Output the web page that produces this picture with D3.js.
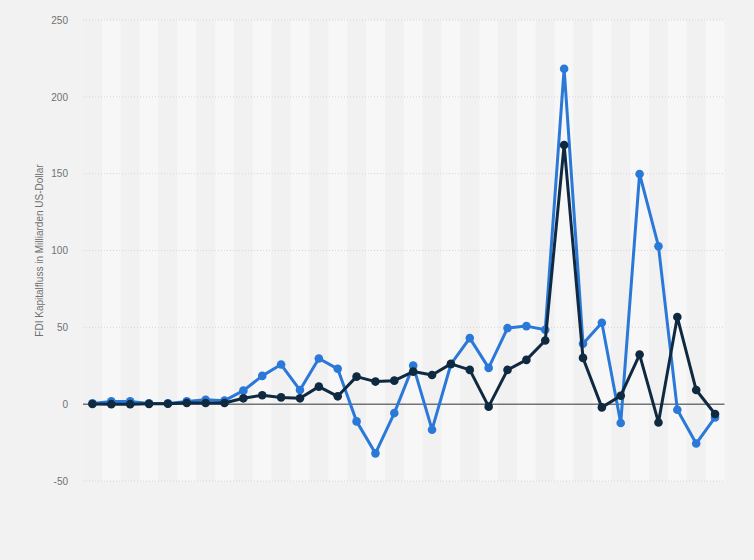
<!DOCTYPE html>
<html>
<head>
<meta charset="utf-8">
<script src="https://cdn.jsdelivr.net/npm/d3@7"></script>
<style>
  html, body { margin: 0; padding: 0; background: #f2f2f2; }
  svg { display: block; }
  text { font-family: "Liberation Sans", Arial, sans-serif; }
</style>
</head>
<body>
<svg id="chart" width="754" height="560"></svg>
<script>
// Data (billions US$), 34 periods
const categories = d3.range(1, 35).map(String);
const seriesBlue = [0.5, 1.8, 1.8, 0.5, 0.5, 1.8, 2.9, 2.3, 8.8, 18.4, 25.8, 9.2, 29.7, 23, -11.2, -32, -5.8, 25.1, -16.6, 26, 43, 23.6, 49.5, 50.8, 48.4, 218.3, 39.3, 53, -12.3, 149.8, 102.8, -3.6, -25.6, -8.6];
const seriesDark = [0.1, 0, 0, 0.2, 0.3, 0.8, 0.8, 0.8, 3.8, 5.8, 4.4, 3.8, 11.4, 5.1, 17.9, 14.7, 15.3, 21.2, 19, 26.2, 22.3, -1.6, 22.3, 28.8, 41.4, 168.7, 30.1, -2.1, 5.5, 32.3, -11.9, 56.7, 9.2, -6.4];
const yTicks = [-50, 0, 50, 100, 150, 200, 250];
const yTitle = "FDI Kapitalfluss in Milliarden US-Dollar";

const svg = d3.select("#chart");
const pLeft = 83, pRight = 724.5, pTop = 20, pBottom = 481;

const x = d3.scaleBand().domain(categories).range([pLeft, pRight]);
const y = d3.scaleLinear().domain([-50, 250]).range([pBottom, pTop]);

// background bands
svg.append("g").selectAll("rect").data(categories).join("rect")
  .attr("x", d => x(d))
  .attr("y", pTop)
  .attr("width", x.bandwidth())
  .attr("height", pBottom - pTop)
  .attr("fill", (d, i) => i % 2 ? "#f7f7f7" : "#f1f1f1");

// grid lines
svg.append("g").selectAll("line").data(yTicks.filter(t => t !== 0)).join("line")
  .attr("x1", pLeft).attr("x2", pRight)
  .attr("y1", d => y(d)).attr("y2", d => y(d))
  .attr("stroke", "#d6d6d6")
  .attr("stroke-width", 1)
  .attr("stroke-dasharray", "1,2");

// y axis labels
const yAxis = d3.axisLeft(y).tickValues(yTicks).tickFormat(d => String(d)).tickSize(0).tickPadding(0);
const ga = svg.append("g").attr("transform", `translate(68,0)`).call(yAxis);
ga.select(".domain").remove();
ga.selectAll("text").attr("fill", "#707070").style("font-size", "10px");

// zero line
svg.append("line")
  .attr("x1", pLeft).attr("x2", pRight)
  .attr("y1", y(0)).attr("y2", y(0))
  .attr("stroke", "#333").attr("stroke-width", 1);

// y title
svg.append("text")
  .attr("transform", `translate(43,${(pTop + pBottom) / 2}) rotate(-90)`)
  .attr("text-anchor", "middle")
  .attr("fill", "#707070")
  .style("font-size", "10px")
  .text(yTitle);

const cx = d => x(d) + x.bandwidth() / 2;
const line = d3.line().x(d => cx(d[0])).y(d => y(d[1]));

function drawSeries(vals, color) {
  const pts = categories.map((c, i) => [c, vals[i]]);
  svg.append("path").datum(pts)
    .attr("d", line)
    .attr("fill", "none")
    .attr("stroke", color)
    .attr("stroke-width", 3)
    .attr("stroke-linejoin", "round");
  svg.append("g").selectAll("circle").data(pts).join("circle")
    .attr("cx", d => cx(d[0]))
    .attr("cy", d => y(d[1]))
    .attr("r", 4.3)
    .attr("fill", color);
}
drawSeries(seriesBlue, "#2a78d8");
drawSeries(seriesDark, "#0f2a40");
</script>
</body>
</html>
